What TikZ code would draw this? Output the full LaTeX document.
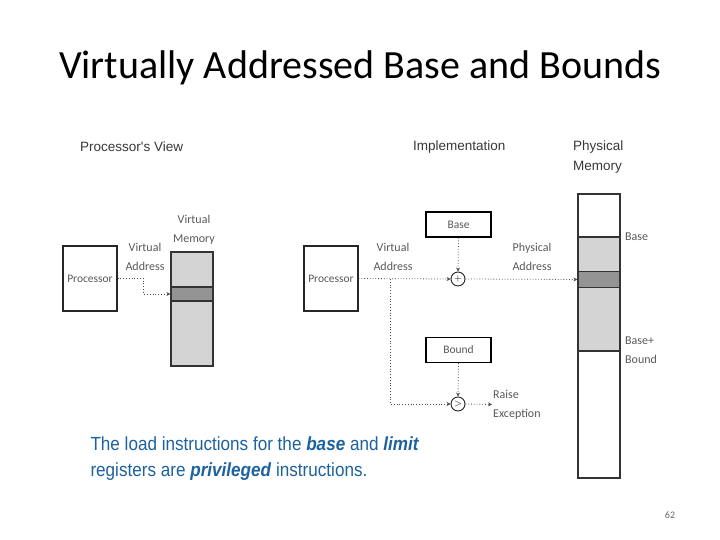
\documentclass[tikz,border=0pt]{standalone}
\usepackage{fontspec}
\usepackage{xcolor}
\setmainfont{Carlito}
\newfontfamily\headfont{Liberation Sans}
\newfontfamily\notefont[FakeStretch=0.9]{Liberation Sans}
\usetikzlibrary{
  arrows.meta,
  positioning,
  calc
}
\definecolor{noteblue}{RGB}{28,98,158}
\tikzset{
  procbox/.style={
    draw=black!85,
    fill=white,
    line width=1.2pt,
    minimum width=54pt,
    minimum height=65pt,
    inner sep=0pt,
    font=\fontsize{11.5}{13}\selectfont,
    text=black!65,
  },
  regbox/.style={
    draw=black,
    fill=white,
    line width=1.4pt,
    minimum width=65pt,
    minimum height=25pt,
    inner sep=0pt,
    font=\fontsize{11.5}{13}\selectfont,
    text=black!65,
  },
  memcol/.style={
    draw=black!80,
    line width=1.2pt,
    minimum width=42pt,
    inner sep=0pt,
  },
  opnode/.style={
    circle,
    draw=black!85,
    fill=white,
    line width=0.9pt,
    minimum size=14pt,
    inner sep=0pt,
    font=\fontsize{10}{10}\selectfont,
  },
  lbl/.style={
    font=\fontsize{12}{19}\selectfont,
    text=black!65,
    align=center,
    inner sep=1pt,
  },
  headlbl/.style={
    font=\headfont\fontsize{13.5}{20}\selectfont,
    text=black!78,
    align=left,
    inner sep=0pt,
  },
  dotarr/.style={
    dotted,
    line width=0.8pt,
    draw=black!70,
    -{Stealth[length=4pt,width=4pt]},
  },
}
\begin{document}
\begin{tikzpicture}[x=1pt, y=-1pt]
  \useasboundingbox (0,0) rectangle (720,540);
  \fill[white] (0,0) rectangle (720,540);

  % Title
  \node[font=\fontsize{40}{44}\selectfont] (title) at (360,68)
    {Virtually Addressed Base and Bounds};

  % Left part --- processor's view
  \node[headlbl, anchor=west] (pview) at (80,147) {Processor's View};
  \node[procbox] (proc1) at (90,278.5) {Processor};
  \node[memcol, fill=black!17, minimum height=114pt] (vmem) at (192,309) {};
  \node[memcol, fill=black!42, minimum height=14pt] (vband) at (192,294) {};
  \node[lbl] (vaddr1) at (145,256.5) {Virtual\\Address};
  \node[lbl] (vmemlbl) at (194,230) {Virtual\\Memory};

  \draw[dotarr] (proc1.east) -- ++(26pt,0) |- (vband.west);

  % Middle part --- implementation
  \node[headlbl, anchor=west] (impl) at (413,147) {Implementation};
  \node[procbox] (proc2) at (331,278.5) {Processor};
  \node[regbox] (base) at (458.5,224.5) {Base};
  \node[regbox] (bound) at (458.5,350) {Bound};
  \node[opnode] (plus) at (458,279) {$+$};
  \node[opnode] (cmp) at (458,404) {$>$};
  \node[lbl] (vaddr2) at (393,256.5) {Virtual\\Address};
  \node[lbl] (paddr) at (532,256.5) {Physical\\Address};
  \node[lbl, anchor=west, align=left] (exc) at (492,404.5) {Raise\\Exception};
  \coordinate (split) at (390,279);

  % Right part --- physical memory
  \node[headlbl, anchor=west] (pmemlbl) at (573,157) {Physical\\Memory};
  \node[memcol, fill=white, minimum height=284pt] (pmem) at (599,336) {};
  \node[memcol, fill=black!17, minimum height=114pt] (pseg) at (599,294) {};
  \node[memcol, fill=black!42, minimum height=16pt] (pband) at (599,279.5) {};
  \node[lbl, anchor=west, align=left] (baselbl) at (624,237) {Base};
  \node[lbl, anchor=west, align=left] (boundlbl) at (624,350.5) {Base+\\Bound};

  \draw[dotarr] (proc2.east) -- (plus.west);
  \draw[dotarr] (base.south) -- (plus.north);
  \draw[dotarr] (plus.east) -- (pband.west);
  \draw[dotarr] (split) |- (cmp.west);
  \draw[dotarr] (bound.south) -- (cmp.north);
  \draw[dotarr] (cmp.east) -- (exc.west);

  % Note
  \node[font=\notefont\fontsize{19}{26}\selectfont, text=noteblue,
    anchor=west, align=left] (note) at (87,459)
    {The load instructions for the \textbf{\textit{base}} and \textbf{\textit{limit}}\\
     registers are \textbf{\textit{privileged}} instructions.};

  % Page number
  \node[font=\fontsize{10}{10}\selectfont, text=black!60] (page) at (670,515) {62};
\end{tikzpicture}
\end{document}
